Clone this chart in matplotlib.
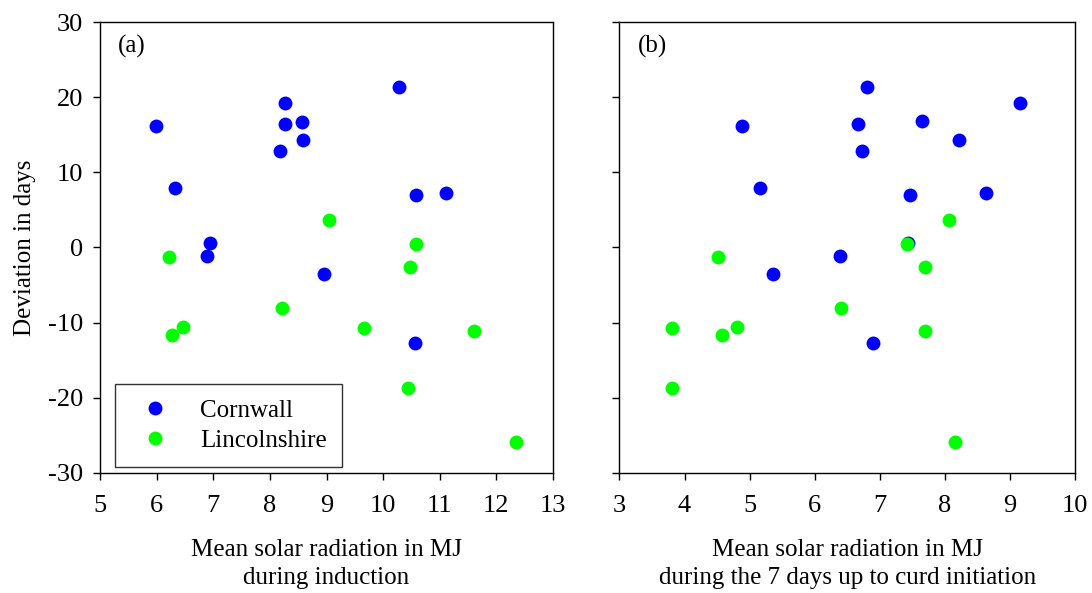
import matplotlib
matplotlib.use("Agg")
import matplotlib.pyplot as plt
from matplotlib.lines import Line2D

plt.rcParams['font.family'] = ['Liberation Serif', 'DejaVu Serif']
plt.rcParams['axes.unicode_minus'] = False

# Panel (a): mean solar radiation during induction
corn_a_x = [5.99, 6.33, 6.94, 6.89, 8.18, 8.27, 8.27, 8.57, 8.59, 8.96, 10.28, 10.58, 11.11, 10.57]
corn_a_y = [16.2, 7.9, 0.6, -1.1, 12.85, 16.4, 19.2, 16.7, 14.3, -3.5, 21.3, 7.0, 7.3, -12.7]
linc_a_x = [6.22, 6.47, 6.27, 9.05, 8.22, 9.66, 10.58, 10.48, 11.60, 10.44, 12.35]
linc_a_y = [-1.25, -10.6, -11.7, 3.7, -8.0, -10.7, 0.4, -2.6, -11.1, -18.7, -25.9]

# Panel (b): mean solar radiation during the 7 days up to curd initiation
corn_b_x = [4.89, 5.16, 5.36, 6.39, 6.81, 6.67, 6.73, 6.90, 7.65, 7.46, 7.44, 8.22, 8.63, 9.15]
corn_b_y = [16.2, 7.9, -3.5, -1.1, 21.3, 16.4, 12.85, -12.7, 16.8, 7.0, 0.6, 14.3, 7.3, 19.2]
linc_b_x = [3.80, 3.81, 4.52, 4.58, 4.81, 6.41, 7.42, 7.69, 7.69, 8.06, 8.16]
linc_b_y = [-10.7, -18.7, -1.25, -11.7, -10.6, -8.0, 0.4, -2.6, -11.1, 3.6, -25.9]

series_names = ["Cornwall", "Lincolnshire"]
colors = ["#0000ff", "#00ff00"]

fig = plt.figure(figsize=(10.92, 5.93), dpi=100)
ax1 = fig.add_axes([0.0916, 0.2024, 0.4148, 0.7605])
ax2 = fig.add_axes([0.5673, 0.2024, 0.4171, 0.7605])

FS = 18
TFS = 19
MS = 10
for ax in (ax1, ax2):
    ax.set_ylim(-30, 30)
    ax.set_yticks(range(-30, 31, 10))
    ax.tick_params(direction='out', length=5, width=1, labelsize=TFS)
    ax.tick_params(axis='x', pad=11)
    ax.tick_params(axis='y', pad=7)
    for sp in ax.spines.values():
        sp.set_linewidth(1.0)

ax1.plot(corn_a_x, corn_a_y, 'o', color=colors[0], ms=MS, mec='none', zorder=3)
ax1.plot(linc_a_x, linc_a_y, 'o', color=colors[1], ms=MS, mec='none', zorder=3)
ax2.plot(corn_b_x, corn_b_y, 'o', color=colors[0], ms=MS, mec='none', zorder=3)
ax2.plot(linc_b_x, linc_b_y, 'o', color=colors[1], ms=MS, mec='none', zorder=3)

ax1.set_xlim(5, 13)
ax1.set_xticks(range(5, 14))
ax2.set_xlim(3, 10)
ax2.set_xticks(range(3, 11))
ax2.set_yticklabels([])

ax1.set_ylabel("Deviation in days", fontsize=FS, labelpad=9)
ax1.set_xlabel("Mean solar radiation in MJ\nduring induction", fontsize=FS, labelpad=16, linespacing=1.3)
ax2.set_xlabel("Mean solar radiation in MJ\nduring the 7 days up to curd initiation", fontsize=FS, labelpad=16, linespacing=1.3)

ax1.text(0.04, 0.945, "(a)", transform=ax1.transAxes, fontsize=FS, va='center', ha='left')
ax2.text(0.04, 0.945, "(b)", transform=ax2.transAxes, fontsize=FS, va='center', ha='left')

handles = [Line2D([], [], marker='o', ls='none', color=c, ms=MS, mec='none') for c in colors]
leg = ax1.legend(handles, series_names, loc='lower left', bbox_to_anchor=(0.033, 0.013),
                 fontsize=FS, frameon=True, fancybox=False, edgecolor='black',
                 handletextpad=0.8, borderpad=0.6, labelspacing=0.32, borderaxespad=0,
                 handlelength=2.0)
leg.get_frame().set_linewidth(1.0)

fig.savefig("out.png", dpi=100)
